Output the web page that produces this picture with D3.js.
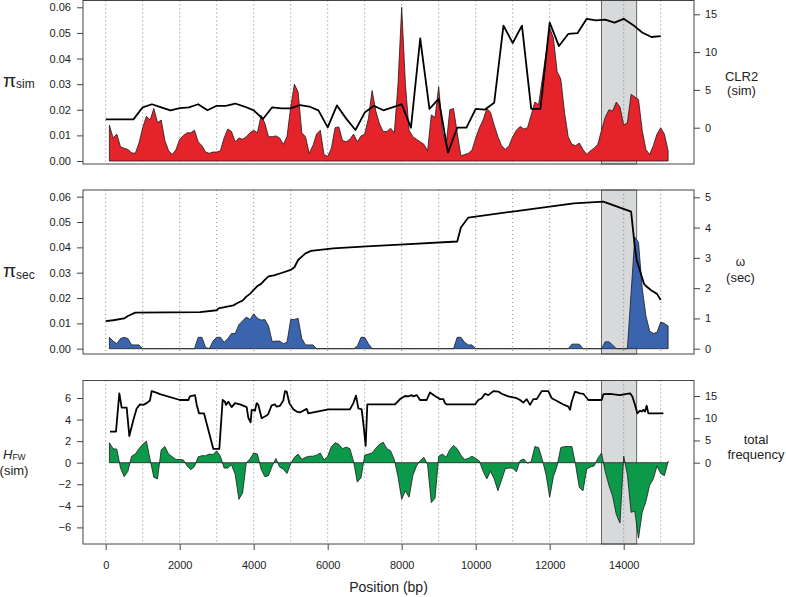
<!DOCTYPE html>
<html><head><meta charset="utf-8">
<script src="https://cdn.jsdelivr.net/npm/d3@7"></script>
<style>
body{margin:0;background:#fff}
svg{display:block}
text{font-family:"Liberation Sans",Arial,Helvetica,sans-serif;fill:#222}
</style>
</head><body>
<svg id="c" width="786" height="597"></svg>
<script>
// ---------------- DATA ----------------
// sliding-window centres (bp)
const windowPos = [
 100,200,300,400,500,600,700,800,900,1000,
 1100,1200,1300,1400,1500,1600,1700,1800,1900,2000,
 2100,2200,2300,2400,2500,2600,2700,2800,2900,3000,
 3100,3200,3300,3400,3500,3600,3700,3800,3900,4000,
 4100,4200,4300,4400,4500,4600,4700,4800,4900,5000,
 5100,5200,5300,5400,5500,5600,5700,5800,5900,6000,
 6100,6200,6300,6400,6500,6600,6700,6800,6900,7000,
 7100,7200,7300,7400,7500,7600,7700,7800,7900,8000,
 8100,8200,8300,8400,8500,8600,8700,8800,8900,9000,
 9100,9200,9300,9400,9500,9600,9700,9800,9900,10000,
 10100,10200,10300,10400,10500,10600,10700,10800,10900,11000,
 11100,11200,11300,11400,11500,11600,11700,11800,11900,12000,
 12100,12200,12300,12400,12500,12600,12700,12800,12900,13000,
 13100,13200,13300,13400,13500,13600,13700,13800,13900,14000,
 14100,14200,14300,14400,14500,14600,14700,14800,14900,15000,
 15100,15200];

const piSim = [
 0.014,0.009,0.0105,0.0055,0.005,0.0045,0.0032,0.003,0.007,0.013,
 0.0175,0.016,0.0205,0.015,0.016,0.008,0.004,0.0025,0.0045,0.0085,
 0.010,0.011,0.011,0.012,0.0075,0.006,0.0035,0.003,0.0035,0.0035,
 0.004,0.009,0.0125,0.0115,0.0075,0.009,0.0085,0.0095,0.011,0.012,
 0.011,0.0178,0.0148,0.0095,0.0095,0.0098,0.009,0.0065,0.0095,0.021,
 0.030,0.027,0.011,0.0095,0.003,0.006,0.0105,0.012,0.0025,0.0018,
 0.005,0.013,0.0133,0.008,0.0075,0.0085,0.0105,0.0075,0.0098,0.0105,
 0.0165,0.0275,0.0195,0.0145,0.0115,0.0115,0.0128,0.011,0.030,0.060,
 0.030,0.012,0.0095,0.0085,0.0075,0.0065,0.004,0.018,0.017,0.029,
 0.012,0.006,0.020,0.0205,0.011,0.002,0.0025,0.003,0.0042,0.009,
 0.013,0.016,0.0205,0.019,0.014,0.0095,0.006,0.0045,0.006,0.0095,
 0.012,0.0135,0.0125,0.013,0.018,0.023,0.022,0.032,0.042,0.052,
 0.048,0.035,0.032,0.019,0.0095,0.0065,0.006,0.007,0.0045,0.0025,
 0.004,0.005,0.0065,0.012,0.017,0.020,0.0195,0.023,0.021,0.014,
 0.015,0.026,0.025,0.024,0.012,0.0045,0.0025,0.006,0.0105,0.013,
 0.0105,0.004];

const piSec = [
 0.0045,0.003,0.002,0.004,0.0045,0.004,0.0015,0.0015,0.0015,0,
 0,0,0,0,0,0,0,0,0,0,
 0,0,0,0,0.0045,0.0045,0.0005,0,0.003,0.0045,
 0.0045,0.0025,0.004,0.006,0.006,0.0095,0.011,0.0125,0.0115,0.0138,
 0.012,0.0113,0.0115,0.009,0.0028,0.003,0.003,0.002,0.0025,0.0115,
 0.0115,0.012,0.004,0.0015,0.0015,0.0015,0,0,0,0,
 0,0,0,0,0,0,0,0.001,0.0045,0.0045,
 0.002,0,0,0,0,0,0,0,0,0,
 0,0,0,0,0,0,0,0,0,0,
 0,0,0,0,0.0045,0.0045,0.0025,0.0015,0.0015,0,
 0,0,0,0,0,0,0,0,0,0,
 0,0,0,0,0,0,0,0,0,0,
 0,0,0,0,0,0.0018,0.0018,0.0018,0,0,
 0,0,0,0,0.0027,0.0027,0.0015,0,0,0,
 0,0.022,0.044,0.042,0.024,0.013,0.007,0.006,0.0065,0.0105,
 0.010,0.009];

const hFW = [
 1.85,1.3,1.25,-0.5,-1.3,-0.8,0.6,0.8,1.3,1.7,
 2.0,0.3,-1.35,-1.5,1.2,1.5,0.8,0.55,0.3,0.3,
 0.25,-0.3,-0.65,-0.35,0.55,0.65,0.65,0.8,0.75,1.1,
 0.6,-0.5,-0.5,-0.2,-1.1,-3.4,-2.8,0.0,0.35,0.9,
 0.8,-0.6,-1.3,-1.2,-0.3,0.4,-0.4,-0.6,-1.0,-0.1,
 0.5,0.8,0.3,0.5,0.6,0.6,0.7,0.9,0.25,0.6,
 1.5,1.85,1.7,1.3,1.45,1.3,0.1,-1.8,-1.4,0.7,
 0.8,0.9,1.35,1.7,1.9,1.3,1.1,0.3,-1.3,-3.4,
 -2.6,-3.2,-1.2,-0.3,0.2,0.5,-0.2,-3.7,-3.3,0.6,
 0.8,0.5,1.2,1.6,1.3,0.7,0.3,0.4,0.6,0.4,
 0.15,-0.8,-1.5,-0.8,-1.5,-2.6,-1.6,-0.55,-0.5,-0.5,
 -0.85,0.2,0.35,-0.05,0.1,1.5,1.4,0.3,-1.1,-3.2,
 -1.3,-0.3,1.4,1.5,1.5,1.5,-0.2,-2.3,-2.6,-0.6,
 -0.4,-0.3,0.4,0.9,-0.8,-2.1,-3.1,-4.8,-5.6,0.6,
 -1.1,-4.6,-4.5,-7.0,-4.6,-3.6,-2.1,-1.5,-0.3,-1.0,
 -1.2,0.1];

// CLR2 (sim) line
const clrPos = [0,250,500,750,1000,1250,1500,1750,2000,2250,2500,2750,3000,3250,3500,3750,4000,4250,4500,4750,
 5000,5250,5500,5750,6000,6250,6500,6750,7000,7250,7500,7750,8000,8250,8500,8750,9000,9250,9500,9750,
 10000,10250,10500,10750,11000,11250,11500,11750,12000,12250,12500,12750,13000,13250,13500,13750,14000,14250,14500,14750,15000];
const clrVal = [1.1,1.1,1.1,1.1,2.7,3.1,2.7,2.3,2.6,2.7,3.1,2.3,2.9,2.9,3.2,2.8,2.3,1.15,2.7,2.55,
 2.55,3.0,2.8,2.3,0.05,2.95,1.2,-0.3,2.0,2.9,2.3,2.7,3.1,0.0,11.8,2.5,3.8,-3.3,0.0,0.0,
 2.5,2.4,3.3,13.5,11.2,13.5,2.5,2.5,13.9,10.8,12.4,12.5,14.4,14.2,14.3,13.9,14.4,13.6,12.6,12.0,12.1];

// omega (sec) line
const omegaPos = [0,200,500,600,800,2550,3000,3050,3450,3550,3700,3800,3900,4000,4100,4200,4300,4400,4550,4750,
 5000,5100,5200,5300,5400,5550,6150,7050,7950,9500,9600,9800,11000,12650,13450,14200,14300,14350,14550,14600,14750,14900,15000];
const omegaVal = [0.91,0.94,1.0,1.08,1.19,1.21,1.27,1.33,1.43,1.5,1.59,1.72,1.81,1.94,2.07,2.14,2.27,2.39,2.42,2.5,
 2.6,2.69,2.93,3.04,3.15,3.23,3.31,3.38,3.44,3.54,4.0,4.33,4.53,4.80,4.86,4.53,3.37,2.93,2.14,2.07,1.92,1.81,1.61];

// total frequency line
const tfPos = [116,278,368,431,567,638,747,837,927,1017,1107,1197,1242,1287,1422,1467,2008,2233,2278,2413,
 2458,2521,2656,2909,3071,3161,3224,3251,3314,3404,3494,3629,3810,3855,3918,3945,4035,4080,4125,4215,
 4350,4395,4485,4575,4620,4710,4755,4800,4846,4891,4963,5071,5161,5251,5431,5476,6017,6602,6693,6765,
 6828,6918,6963,7026,7071,7819,7955,8090,8180,8270,8315,8405,8495,8675,8765,8900,9036,9126,9171,9216,
 9981,10072,10162,10252,10342,10477,10612,10702,10882,11108,11198,11288,11378,11468,11558,11648,11784,11963,12054,12234,
 12369,12504,12549,12594,12684,12819,12910,13045,13405,13450,13630,13900,14081,14171,14234,14306,14369,14441,14486,14531,
 14576,14621,14666,15072];
const tfVal = [7.0,7.0,15.6,12.4,12.4,6.0,9.6,12.2,13.1,13.0,13.4,14.0,16.1,16.0,15.6,15.4,14.1,14.1,14.9,15.2,
 13.1,11.1,11.1,3.1,3.1,14.1,13.7,13.0,13.7,12.5,13.4,13.1,12.5,10.1,9.1,11.9,11.7,13.4,13.0,10.0,
 10.6,11.0,12.9,13.1,12.6,12.8,13.4,14.0,16.1,16.0,13.4,12.0,11.5,11.3,12.1,11.1,12.0,12.0,13.4,15.1,
 12.2,12.0,8.9,3.8,13.1,13.1,14.3,15.0,14.9,15.2,14.9,15.2,14.1,14.1,15.8,15.0,14.3,14.3,13.4,13.1,
 13.1,14.1,14.5,15.5,15.2,16.1,16.0,15.5,14.9,14.5,14.1,13.5,14.3,13.0,14.3,14.3,16.1,16.1,14.5,13.7,
 13.1,12.6,11.9,13.7,16.0,15.6,15.5,14.1,14.1,15.4,15.5,15.2,15.5,15.6,14.9,13.0,11.1,11.7,11.5,11.9,
 11.5,12.8,11.1,11.1];

const highlight = [13400, 14350];
const gridPos = [0,1000,2000,3000,4000,5000,6000,7000,8000,9000,10000,11000,12000,13000,14000,15000];
const xTicks = [0,2000,4000,6000,8000,10000,12000,14000];
const piTicks = [0,0.01,0.02,0.03,0.04,0.05,0.06];
const clrTicks = [0,5,10,15];
const omegaTicks = [0,1,2,3,4,5];
const hTicks = [-6,-4,-2,0,2,4,6];
const tfTicks = [0,5,10,15];

// ---------------- DRAW ----------------
const svg = d3.select("#c");
const L = 83, R = 694;
const x = d3.scaleLinear().domain([0, 14000]).range([105.7, 623.7]);

const panels = [
  {top:0.5, bottom:164, yl:d3.scaleLinear().domain([0,0.06]).range([161,7.3]),
   yr:d3.scaleLinear().domain([0,15]).range([127.7,14.3]),
   area:piSim, fill:"#e4232a", lx:clrPos, ly:clrVal, lt:piTicks, rt:clrTicks, lf:d3.format(".2f")},
  {top:190, bottom:354, yl:d3.scaleLinear().domain([0,0.06]).range([348.7,196.7]),
   yr:d3.scaleLinear().domain([0,5]).range([348.7,197.3]),
   area:piSec, fill:"#3a65ae", lx:omegaPos, ly:omegaVal, lt:piTicks, rt:omegaTicks, lf:d3.format(".2f")},
  {top:380.5, bottom:544, yl:d3.scaleLinear().domain([0,6]).range([462.7,398]),
   yr:d3.scaleLinear().domain([0,15]).range([462.7,396]),
   area:hFW, fill:"#0c9a4a", lx:tfPos, ly:tfVal, lt:hTicks, rt:tfTicks, lf:d3.format("d")}
];

panels.forEach(p => {
  const g = svg.append("g");
  // highlight band
  g.append("rect").attr("x", x(highlight[0])).attr("y", p.top)
   .attr("width", x(highlight[1]) - x(highlight[0])).attr("height", p.bottom - p.top)
   .attr("fill", "#d8d9db").attr("stroke", "#666").attr("stroke-width", 1);
  // dotted grid
  g.selectAll(".grid").data(gridPos).join("line")
   .attr("x1", d => x(d)).attr("x2", d => x(d))
   .attr("y1", p.top).attr("y2", p.bottom)
   .attr("stroke", "#666").attr("stroke-width", 0.8).attr("stroke-dasharray", "1,3");
  // area
  const area = d3.area().x((d,i) => x(windowPos[i])).y0(p.yl(0)).y1(d => p.yl(d));
  g.append("path").datum(p.area).attr("d", area)
   .attr("fill", p.fill).attr("stroke", "#1a1a1a").attr("stroke-width", 0.8).attr("stroke-linejoin","round");
  // line
  const line = d3.line().x((d,i) => x(p.lx[i])).y(d => p.yr(d));
  g.append("path").datum(p.ly).attr("d", line)
   .attr("fill", "none").attr("stroke", "#000").attr("stroke-width", 1.8).attr("stroke-linejoin","round");
  // box
  g.append("rect").attr("x", L).attr("y", p.top).attr("width", R - L).attr("height", p.bottom - p.top)
   .attr("fill", "none").attr("stroke", "#444").attr("stroke-width", 1);
  // left axis
  const la = g.append("g").attr("transform", `translate(${L},0)`)
   .call(d3.axisLeft(p.yl).tickValues(p.lt).tickSize(6).tickPadding(6).tickFormat(p.lf));
  // right axis
  const ra = g.append("g").attr("transform", `translate(${R},0)`)
   .call(d3.axisRight(p.yr).tickValues(p.rt).tickSize(6).tickPadding(5).tickFormat(d3.format("d")));
  [la, ra].forEach(a => {
    a.select(".domain").remove();
    a.selectAll("line").attr("stroke", "#444");
    a.selectAll("text").attr("font-size", 11).attr("fill", "#222")
     .style("font-family", '"Liberation Sans",Arial,sans-serif');
  });
});

// bottom axis
const ba = svg.append("g").attr("transform", "translate(0,544)")
  .call(d3.axisBottom(x).tickValues(xTicks).tickSize(6).tickPadding(11).tickFormat(d3.format("d")));
ba.select(".domain").remove();
ba.selectAll("line").attr("stroke", "#444");
ba.selectAll("text").attr("font-size", 11).attr("fill", "#222")
  .style("font-family", '"Liberation Sans",Arial,sans-serif');

// axis titles
svg.append("text").attr("x", 388.5).attr("y", 592).attr("text-anchor", "middle")
  .attr("font-size", 14).text("Position (bp)");

function piLabel(y, sub) {
  const t = svg.append("text").attr("x", 3).attr("y", y);
  t.append("tspan").attr("font-size", 19).text("π");
  t.append("tspan").attr("font-size", 12).attr("dy", 1.5).text(sub);
}
piLabel(86.5, "sim");
piLabel(277, "sec");

const h = svg.append("text").attr("x", 3).attr("y", 458.5);
h.append("tspan").attr("font-size", 13).attr("font-style", "italic").text("H");
h.append("tspan").attr("font-size", 8.5).attr("dy", 1.5).text("FW");
svg.append("text").attr("x", 14).attr("y", 475).attr("text-anchor", "middle")
  .attr("font-size", 13).text("(sim)");

function rightLabel(lines, cx, ys, sizes) {
  lines.forEach((s, i) => svg.append("text").attr("x", cx).attr("y", ys[i])
    .attr("text-anchor", "middle").attr("font-size", sizes[i]).text(s));
}
rightLabel(["CLR2", "(sim)"], 741.5, [80.5, 95], [13, 13]);
rightLabel(["ω", "(sec)"], 740.5, [266, 281.5], [12, 13]);
rightLabel(["total", "frequency"], 756, [443.5, 459], [13, 13]);
</script>
</body></html>
